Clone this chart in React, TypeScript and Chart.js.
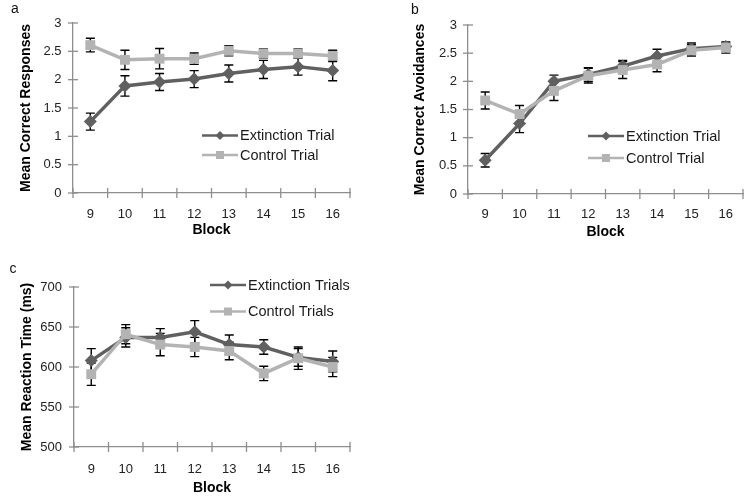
import React, { useEffect, useRef } from "react";
import { Chart, registerables } from "chart.js";

Chart.register(...registerables);

// ---- data ----
const blocks = ["9", "10", "11", "12", "13", "14", "15", "16"];

const aExtinction = [1.26, 1.89, 1.96, 2.01, 2.11, 2.18, 2.23, 2.16];
const aExtinctionErr = [0.15, 0.18, 0.15, 0.15, 0.15, 0.16, 0.15, 0.18];
const aControl = [2.61, 2.35, 2.37, 2.37, 2.51, 2.46, 2.46, 2.42];
const aControlErr = [0.12, 0.17, 0.18, 0.1, 0.09, 0.08, 0.08, 0.1];

const bExtinction = [0.6, 1.25, 2.0, 2.12, 2.27, 2.45, 2.58, 2.62];
const bExtinctionErr = [0.12, 0.16, 0.11, 0.12, 0.1, 0.12, 0.1, 0.06];
const bControl = [1.66, 1.42, 1.83, 2.1, 2.2, 2.3, 2.55, 2.6];
const bControlErr = [0.15, 0.15, 0.17, 0.13, 0.15, 0.13, 0.1, 0.1];

const cExtinction = [608, 637, 637, 644, 628, 625, 612, 607];
const cExtinctionErr = [15, 12, 11, 14, 12, 9, 11, 13];
const cControl = [591, 641, 628, 625, 620, 592, 611, 600];
const cControlErr = [14, 12, 14, 12, 11, 9, 14, 12];

const EXT_COLOR = "#606060";
const CTRL_COLOR = "#b3b3b3";
const AXIS_COLOR = "#8e8e8e";
const FONT = "'Liberation Sans', Arial, sans-serif";

type Panel = {
  label: string;
  left: number;
  top: number;
  width: number;
  height: number;
  yTitle: string;
  yMin: number;
  yMax: number;
  yStep: number;
  ext: number[];
  extErr: number[];
  ctrl: number[];
  ctrlErr: number[];
  extName: string;
  ctrlName: string;
  yWidth: number;
  xHeight: number;
  padTop: number;
  padRight: number;
  yTitlePad: number;
  yLabelPad: number;
  xLabelPad: number;
  xTitlePad: number;
  legendX: number;
  legendY1: number;
  legendY2: number;
  panelX: number;
  panelY: number;
};

const panels: Panel[] = [
  {
    label: "a", left: 0, top: 0, width: 360, height: 245,
    yTitle: "Mean Correct Responses", yMin: 0, yMax: 3, yStep: 0.5,
    ext: aExtinction, extErr: aExtinctionErr, ctrl: aControl, ctrlErr: aControlErr,
    extName: "Extinction Trial", ctrlName: "Control Trial",
    yWidth: 73, xHeight: 52, padTop: 23, padRight: 10,
    yTitlePad: 17.6, yLabelPad: 6.5, xLabelPad: 9, xTitlePad: 6,
    legendX: 202, legendY1: 135.5, legendY2: 155, panelX: 15, panelY: 9,
  },
  {
    label: "b", left: 375, top: 0, width: 375, height: 245,
    yTitle: "Mean Correct Avoidances", yMin: 0, yMax: 3, yStep: 0.5,
    ext: bExtinction, extErr: bExtinctionErr, ctrl: bControl, ctrlErr: bControlErr,
    extName: "Extinction Trial", ctrlName: "Control Trial",
    yWidth: 93, xHeight: 51, padTop: 25, padRight: 6,
    yTitlePad: 36.6, yLabelPad: 6, xLabelPad: 8, xTitlePad: 4,
    legendX: 213, legendY1: 136, legendY2: 158, panelX: 40, panelY: 10,
  },
  {
    label: "c", left: 0, top: 240, width: 360, height: 263,
    yTitle: "Mean Reaction Time (ms)", yMin: 500, yMax: 700, yStep: 50,
    ext: cExtinction, extErr: cExtinctionErr, ctrl: cControl, ctrlErr: cControlErr,
    extName: "Extinction Trials", ctrlName: "Control Trials",
    yWidth: 74, xHeight: 56, padTop: 47, padRight: 10,
    yTitlePad: 19, yLabelPad: 7, xLabelPad: 10, xTitlePad: 6.6,
    legendX: 210, legendY1: 45, legendY2: 71.5, panelX: 13, panelY: 29,
  },
];

function drawMarker(ctx: CanvasRenderingContext2D, style: string, x: number, y: number, r: number, color: string) {
  ctx.save();
  ctx.fillStyle = color;
  ctx.beginPath();
  if (style === "diamond") {
    ctx.moveTo(x, y - r);
    ctx.lineTo(x + r, y);
    ctx.lineTo(x, y + r);
    ctx.lineTo(x - r, y);
    ctx.closePath();
  } else {
    ctx.rect(x - r, y - r, 2 * r, 2 * r);
  }
  ctx.fill();
  ctx.restore();
}

function makeConfig(p: Panel): any {
  const decor = {
    id: "decor_" + p.label,
    beforeDatasetsDraw(chart: any) {
      const ctx: CanvasRenderingContext2D = chart.ctx;
      const xs = chart.scales.x;
      const ys = chart.scales.y;
      ctx.save();
      ctx.strokeStyle = "#000";
      ctx.lineWidth = 1.4;
      const sets: [number[], number[]][] = [
        [p.ext, p.extErr],
        [p.ctrl, p.ctrlErr],
      ];
      for (const [vals, errs] of sets) {
        vals.forEach((v, i) => {
          const x = xs.getPixelForValue(i);
          const yt = ys.getPixelForValue(v + errs[i]);
          const yb = ys.getPixelForValue(v - errs[i]);
          ctx.beginPath();
          ctx.moveTo(x, yt);
          ctx.lineTo(x, yb);
          ctx.moveTo(x - 4.5, yt);
          ctx.lineTo(x + 4.5, yt);
          ctx.moveTo(x - 4.5, yb);
          ctx.lineTo(x + 4.5, yb);
          ctx.stroke();
        });
      }
      ctx.restore();
    },
    afterDraw(chart: any) {
      const ctx: CanvasRenderingContext2D = chart.ctx;
      const area = chart.chartArea;
      const ys = chart.scales.y;
      ctx.save();
      // cross tick marks
      ctx.strokeStyle = AXIS_COLOR;
      ctx.lineWidth = 1.3;
      ys.ticks.forEach((_t: any, i: number) => {
        const y = ys.getPixelForTick(i);
        ctx.beginPath();
        ctx.moveTo(area.left - 5, y);
        ctx.lineTo(area.left + 5, y);
        ctx.stroke();
      });
      const n = blocks.length;
      for (let i = 0; i <= n; i++) {
        const x = area.left + (i * (area.right - area.left)) / n;
        ctx.beginPath();
        ctx.moveTo(x, area.bottom - 5);
        ctx.lineTo(x, area.bottom + 5);
        ctx.stroke();
      }
      // legend
      const lx = p.legendX;
      const rows: [number, string, string, string][] = [
        [p.legendY1, EXT_COLOR, "diamond", p.extName],
        [p.legendY2, CTRL_COLOR, "square", p.ctrlName],
      ];
      for (const [ly, col, st, name] of rows) {
        ctx.strokeStyle = col;
        ctx.lineWidth = 2.5;
        ctx.beginPath();
        ctx.moveTo(lx, ly);
        ctx.lineTo(lx + 36, ly);
        ctx.stroke();
        drawMarker(ctx, st, lx + 18, ly, st === "diamond" ? 4.5 : 4, col);
        ctx.fillStyle = "#1a1a1a";
        ctx.font = `14.5px ${FONT}`;
        ctx.textBaseline = "middle";
        ctx.textAlign = "left";
        ctx.fillText(name, lx + 38, ly + 0.5);
      }
      // panel letter
      ctx.font = `14px ${FONT}`;
      ctx.textAlign = "center";
      ctx.fillStyle = "#111";
      ctx.fillText(p.label, p.panelX, p.panelY);
      ctx.restore();
    },
  };

  return {
    type: "line",
    data: {
      labels: blocks,
      datasets: [
        {
          label: p.extName,
          data: p.ext,
          borderColor: EXT_COLOR,
          backgroundColor: EXT_COLOR,
          borderWidth: 3.5,
          pointStyle: "rectRot",
          pointRadius: 6.5,
          pointBorderWidth: 0,
          pointBackgroundColor: EXT_COLOR,
          order: 2,
        },
        {
          label: p.ctrlName,
          data: p.ctrl,
          borderColor: CTRL_COLOR,
          backgroundColor: CTRL_COLOR,
          borderWidth: 3.5,
          pointStyle: "rect",
          pointRadius: 7,
          pointBorderWidth: 0,
          pointBackgroundColor: CTRL_COLOR,
          order: 1,
        },
      ],
    },
    options: {
      responsive: false,
      animation: false,
      devicePixelRatio: 1,
      layout: { padding: { top: p.padTop, right: p.padRight, left: 0, bottom: 0 } },
      plugins: { legend: { display: false }, tooltip: { enabled: false } },
      elements: { line: { tension: 0 } },
      scales: {
        x: {
          type: "category",
          offset: true,
          afterFit: (s: any) => {
            s.height = p.xHeight;
          },
          border: { display: true, color: AXIS_COLOR, width: 1.3 },
          grid: { display: true, drawOnChartArea: false, drawTicks: true, tickLength: 5, color: "rgba(0,0,0,0)", offset: true },
          ticks: { color: "#222", font: { family: FONT, size: 13 }, padding: p.xLabelPad, maxRotation: 0 },
          title: {
            display: true,
            text: "Block",
            color: "#000",
            font: { family: FONT, size: 14, weight: "bold" },
            padding: { top: 0, bottom: p.xTitlePad },
          },
        },
        y: {
          min: p.yMin,
          max: p.yMax,
          afterFit: (s: any) => {
            s.width = p.yWidth;
          },
          border: { display: true, color: AXIS_COLOR, width: 1.3 },
          grid: { display: true, drawOnChartArea: false, drawTicks: true, tickLength: 5, color: "rgba(0,0,0,0)" },
          ticks: {
            stepSize: p.yStep,
            color: "#222",
            font: { family: FONT, size: 13 },
            padding: p.yLabelPad,
            callback: (v: any) => String(v),
          },
          title: {
            display: true,
            text: p.yTitle,
            color: "#000",
            font: { family: FONT, size: 14, weight: "bold" },
            padding: { top: p.yTitlePad, bottom: 0 },
          },
        },
      },
    },
    plugins: [decor],
  };
}

function PanelChart({ p }: { p: Panel }) {
  const ref = useRef<HTMLCanvasElement | null>(null);
  useEffect(() => {
    if (!ref.current) return;
    const chart = new Chart(ref.current, makeConfig(p));
    return () => chart.destroy();
  }, [p]);
  return (
    <canvas
      ref={ref}
      width={p.width}
      height={p.height}
      style={{ position: "absolute", left: p.left, top: p.top, width: p.width, height: p.height }}
    />
  );
}

export default function App() {
  return (
    <div style={{ position: "fixed", left: 0, top: 0, width: 750, height: 503, background: "#fff", overflow: "hidden" }}>
      {panels.map((p) => (
        <PanelChart key={p.label} p={p} />
      ))}
    </div>
  );
}
